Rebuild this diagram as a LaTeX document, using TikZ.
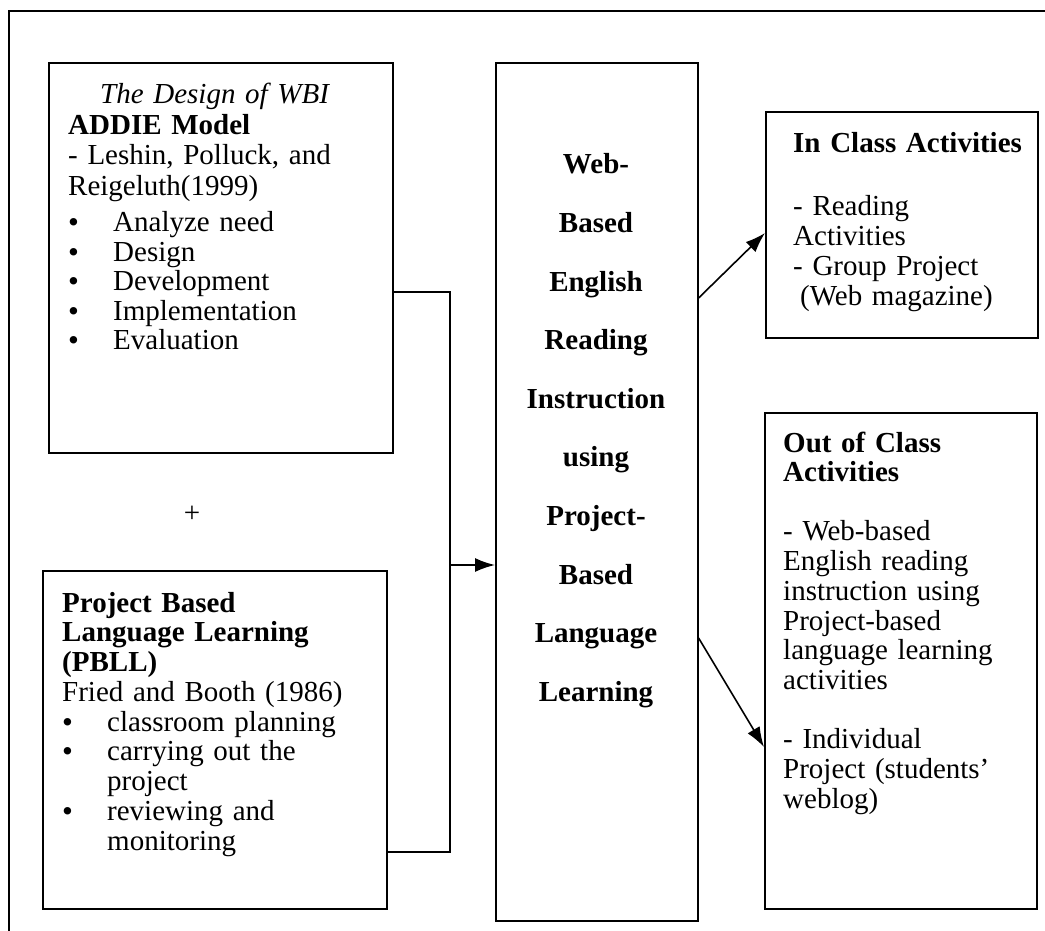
\documentclass[tikz,border=0pt]{standalone}
\usepackage{fontspec}
\setmainfont{Liberation Serif}
\usetikzlibrary{arrows.meta}
\newcommand\bul{\makebox[45pt][l]{\raisebox{-1pt}{\fontsize{31}{30}\selectfont\textbullet}}}
\begin{document}
\begin{tikzpicture}[x=1pt,y=-1pt,
  box/.style={draw,line width=1.6pt,inner sep=0pt,anchor=north west},
  txt/.style={anchor=base west,inner sep=0pt,text width=340pt,align=left,font=\fontsize{29}{30}\selectfont},
  ctxt/.style={anchor=base,inner sep=0pt,text width=200pt,align=center,font=\fontsize{29}{58.6}\selectfont\bfseries},
  conn/.style={line width=1.6pt},
  arr/.style={conn,-{Latex[length=20pt,width=14pt]}}]
\useasboundingbox (0,0) rectangle (1045,931);
\clip (0,0) rectangle (1045,931);
\draw[line width=1.8pt] (9,960) -- (9,11) -- (1080,11);
% boxes
\node[box,minimum width=344pt,minimum height=390pt] (addie) at (48,62) {};
\node[box,minimum width=344pt,minimum height=338pt] (pbll) at (42,570) {};
\node[box,minimum width=202pt,minimum height=858pt] (wbi) at (495,62) {};
\node[box,minimum width=272pt,minimum height=226pt] (inclass) at (765,111) {};
\node[box,minimum width=272pt,minimum height=496pt] (outclass) at (764,412) {};
% texts
\node[txt,font=\fontsize{29}{30.5}\selectfont] (t1) at (68,104) {\hspace*{32pt}\textit{The Design of WBI}\\
\textbf{ADDIE Model}\\
- Leshin, Polluck, and\\
Reigeluth(1999)\\[6pt]
\bul Analyze need\\[-1pt]
\bul Design\\[-1pt]
\bul Development\\[-1pt]
\bul Implementation\\[-1pt]
\bul Evaluation};
\node[anchor=base,inner sep=0pt,font=\fontsize{29}{30}\selectfont] (plus) at (192,522) {+};
\node[txt,font=\fontsize{29}{29.75}\selectfont] (t2) at (62,612) {\textbf{Project Based}\\
\textbf{Language Learning}\\
\textbf{(PBLL)}\\
Fried and Booth (1986)\\
\bul classroom planning\\
\bul carrying out the\\
\hspace*{45pt}project\\
\bul reviewing and\\
\hspace*{45pt}monitoring};
\node[ctxt] (t3) at (596,174) {Web-\\Based\\English\\Reading\\Instruction\\using\\Project-\\Based\\Language\\Learning};
\node[txt] (t4) at (793,153) {\textbf{In Class Activities}\\[33pt]
- Reading\\
Activities\\
- Group Project\\
\hspace*{7pt}(Web magazine)};
\node[txt,font=\fontsize{29}{29.7}\selectfont] (t5) at (783,452) {\textbf{Out of Class}\\
\textbf{Activities}\\[29.5pt]
- Web-based\\
English reading\\
instruction using\\
Project-based\\
language learning\\
activities\\[29.5pt]
- Individual\\
Project (students'\\
weblog)};
% connectors
\coordinate (j1) at (450,292);
\coordinate (j2) at (450,852);
\coordinate (j3) at (450,565);
\draw[conn] (addie.east |- j1) -- (j1) -- (j2) -- (pbll.east |- j2);
\draw[arr] (j3) -- (wbi.west |- j3);
\draw[arr] (wbi.east |- 0,298) -- (inclass.west |- 0,233);
\draw[arr] (wbi.east |- 0,638) -- (outclass.west |- 0,747);
\end{tikzpicture}
\end{document}
